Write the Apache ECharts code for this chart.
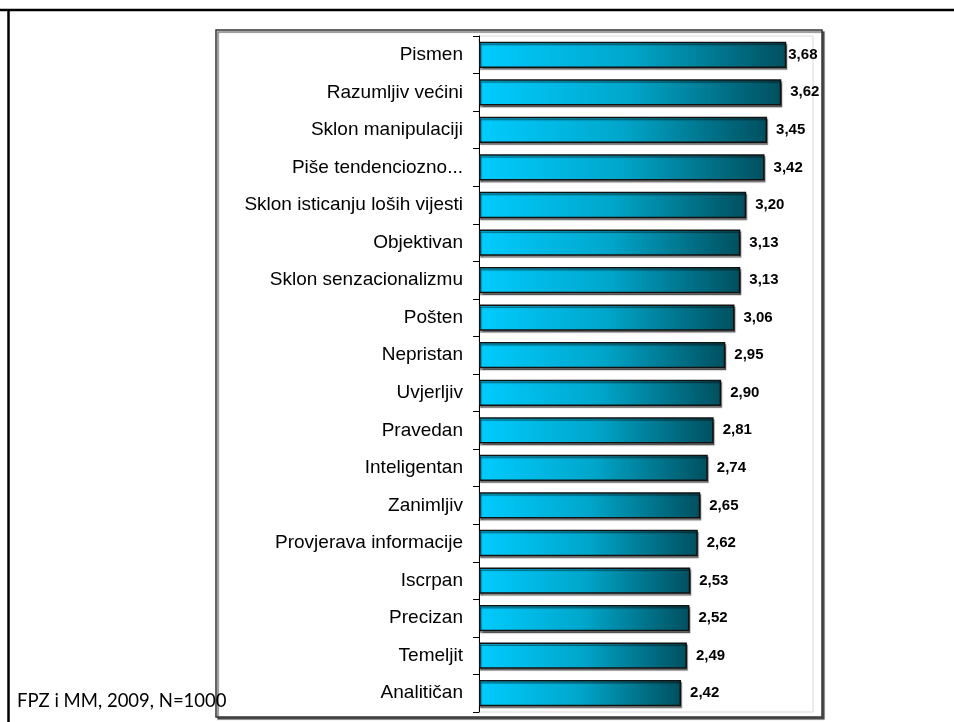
<!DOCTYPE html>
<html>
<head>
<meta charset="utf-8">
<script src="https://cdn.jsdelivr.net/npm/echarts@6/dist/echarts.min.js"></script>
<style>
html,body{margin:0;padding:0;background:#fff;}
#main{width:954px;height:722px;}
</style>
</head>
<body>
<div id="main"></div>
<script>
var categories = ['Pismen','Razumljiv većini','Sklon manipulaciji','Piše tendenciozno...','Sklon isticanju loših vijesti','Objektivan','Sklon senzacionalizmu','Pošten','Nepristan','Uvjerljiv','Pravedan','Inteligentan','Zanimljiv','Provjerava informacije','Iscrpan','Precizan','Temeljit','Analitičan'];
var values = [3.68,3.62,3.45,3.42,3.20,3.13,3.13,3.06,2.95,2.90,2.81,2.74,2.65,2.62,2.53,2.52,2.49,2.42];
var footnote = 'FPZ i MM, 2009, N=1000';

// the longest bar's label sits tight against the bar (it would overflow the frame)
var seriesData = values.map(function(v, i){
  return i === 0 ? {value: v, label: {distance: 2}} : v;
});

var chart = echarts.init(document.getElementById('main'), null, {renderer:'canvas'});
chart.setOption({
  animation:false,
  backgroundColor:'#fff',
  graphic:[
    {type:'line', z:-10, shape:{x1:0,y1:10,x2:954,y2:10}, style:{stroke:'#000',lineWidth:2.5}},
    {type:'line', z:-10, shape:{x1:8.5,y1:9,x2:8.5,y2:722}, style:{stroke:'#000',lineWidth:2.5}},
    {type:'rect', z:-9, shape:{x:216,y:30,width:606,height:687},
      style:{fill:'#fff',stroke:'#333',lineWidth:1.5,shadowColor:'rgba(0,0,0,0.55)',shadowOffsetX:2,shadowOffsetY:2,shadowBlur:1}},
    {type:'text', z:100, left:17, top:692, style:{text:footnote, fill:'#000', font:'18.5px Lato, "Open Sans", sans-serif'}}
  ],
  grid:{left:479,right:141,top:36,bottom:10,show:true,borderColor:'#d9d9d9',borderWidth:1,backgroundColor:'transparent'},
  xAxis:{type:'value',min:0,max:4,show:false,splitLine:{show:false}},
  yAxis:{type:'category',data:categories,inverse:true,
    axisLine:{show:true,lineStyle:{color:'#000',width:1}},
    axisTick:{show:true,length:6,lineStyle:{color:'#000'}},
    axisLabel:{color:'#000',fontFamily:'Arial, "Liberation Sans", sans-serif',fontSize:19,margin:16}
  },
  series:[{
    type:'bar',
    data:seriesData,
    barCategoryGap:'30%',
    itemStyle:{
      color:new echarts.graphic.LinearGradient(0,0,1,0,[{offset:0,color:'#00ccff'},{offset:0.5,color:'#00a6ca'},{offset:1,color:'#00505f'}]),
      borderColor:'#111',borderWidth:1.5,
      shadowColor:'rgba(0,0,0,0.45)',shadowOffsetX:1,shadowOffsetY:2,shadowBlur:1
    },
    label:{show:true,position:'right',distance:9,color:'#000',fontWeight:'bold',fontSize:15,fontFamily:'Arial, "Liberation Sans", sans-serif',
      formatter:function(p){return p.value.toFixed(2).replace('.',',');}}
  }]
});
</script>
</body>
</html>
